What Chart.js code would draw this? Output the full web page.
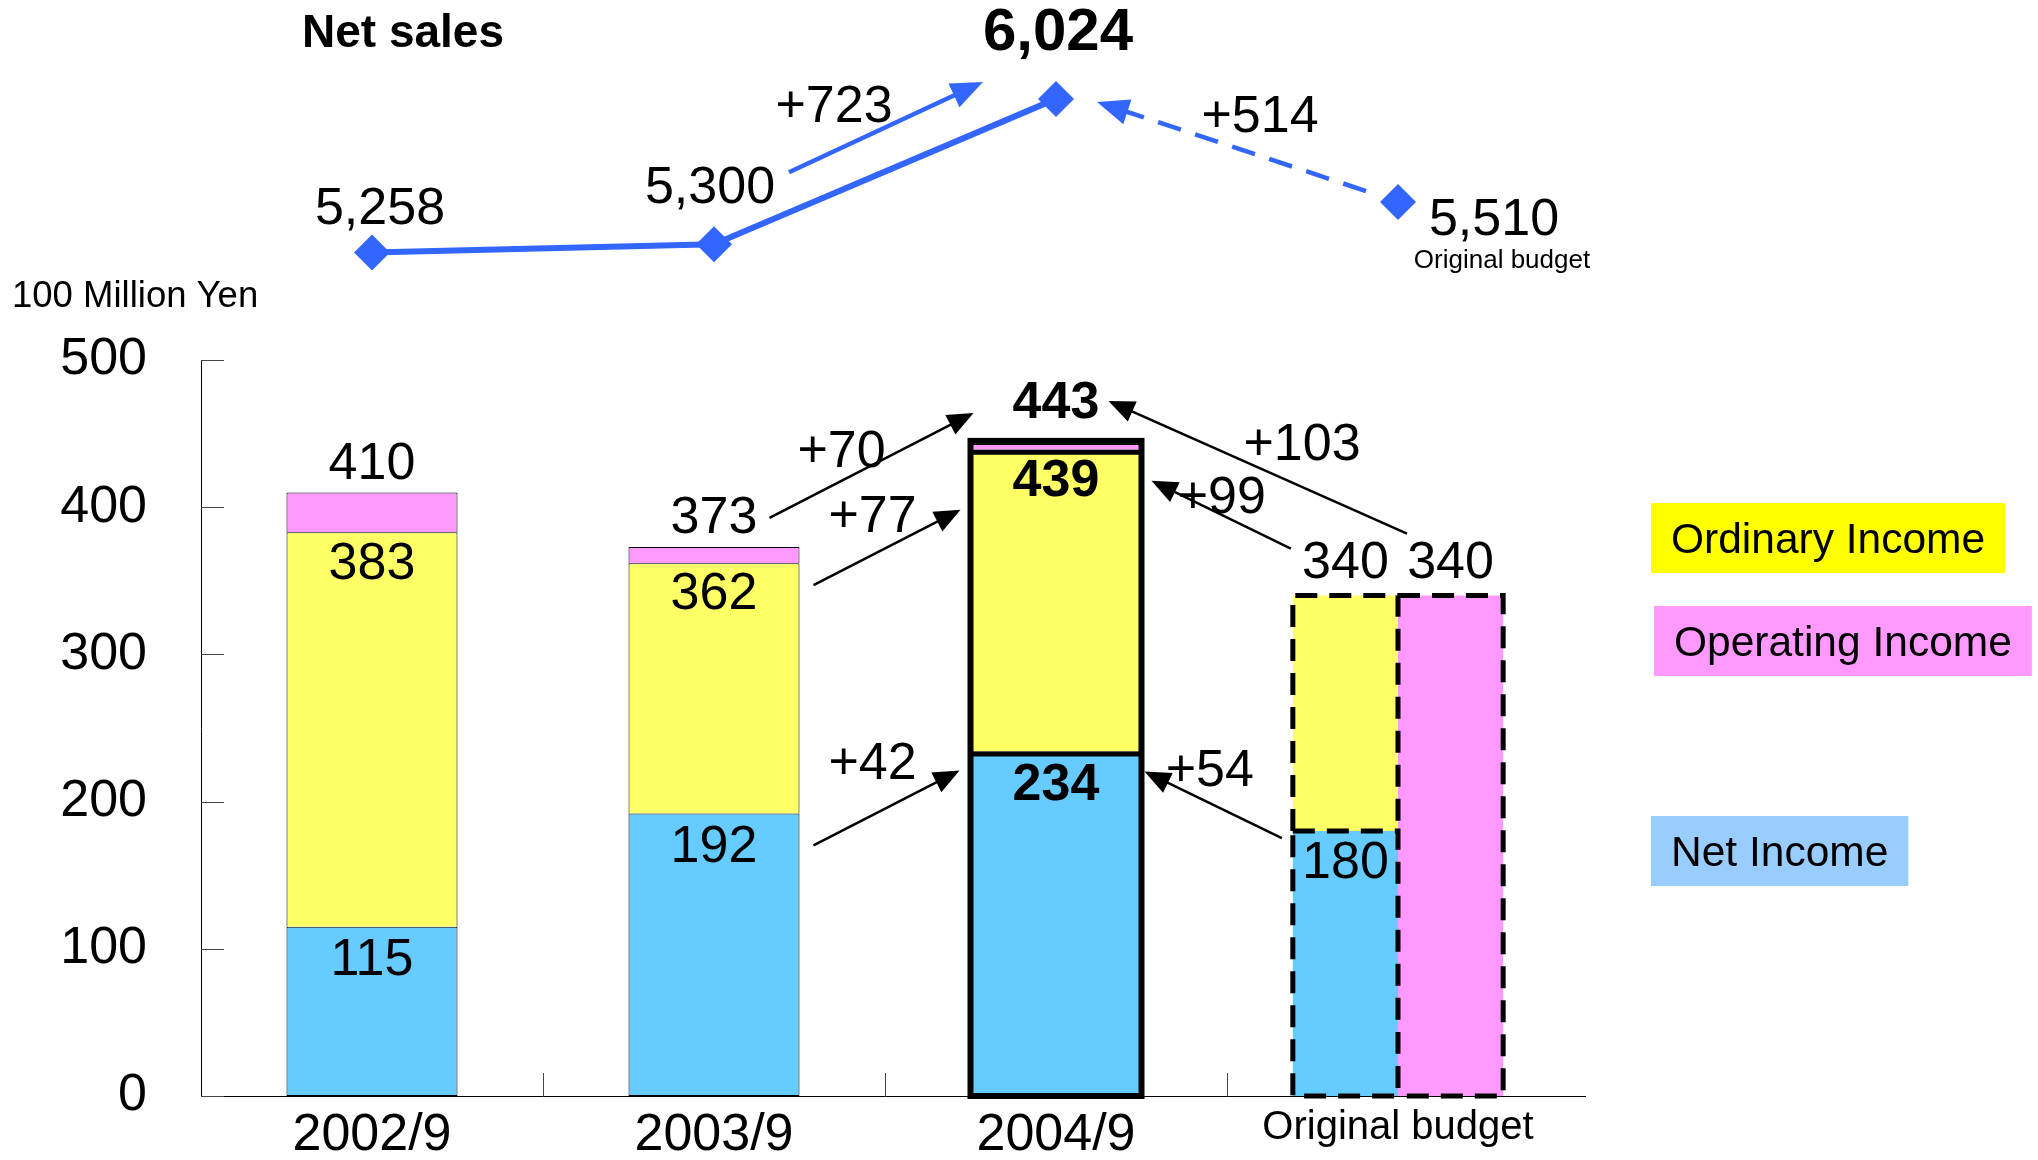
<!DOCTYPE html>
<html>
<head>
<meta charset="utf-8">
<title>Net sales and income</title>
<script src="https://cdn.jsdelivr.net/npm/chart.js@4.4.1/dist/chart.umd.min.js"></script>
<style>
  html, body { margin: 0; padding: 0; background: #fff; }
  canvas { display: block; }
</style>
</head>
<body>
<canvas id="chart" width="2038" height="1160"></canvas>
<script>
// ---- data (100 million yen) ----
const categories      = ['2002/9', '2003/9', '2004/9', 'Original budget'];
const netSales        = [5258, 5300, 6024, 5510];
const netIncome       = [115, 192, 234, 180];
const ordinaryIncome  = [383, 362, 439, 340];
const operatingIncome = [410, 373, 443, 340];
const yTicks          = [0, 100, 200, 300, 400, 500];

const BUDGET = 3;   // plan column
const CURRENT = 2;  // latest actual, drawn emphasised

const SERIES = { net: 'Net Income', ordinary: 'Ordinary Income', operating: 'Operating Income' };

// ---- style ----
const FONT = '"Liberation Sans", Arial, Helvetica, sans-serif';
const font = (size, bold) => (bold ? 'bold ' : '') + size + 'px ' + FONT;
const COLORS = {
  net: '#66CCFF', ordinary: '#FFFF66', operating: '#FF99FF',
  sales: '#3366FF', ink: '#000000'
};
const LEGEND = [
  { label: SERIES.ordinary,  fill: '#FFFF00', x: 1651, y: 503 },
  { label: SERIES.operating, fill: '#FF99FF', x: 1654, y: 606 },
  { label: SERIES.net,       fill: '#99CCFF', x: 1651, y: 816 }
];

const actual = fn => categories.map((_, i) => (i === BUDGET ? null : fn(i)));
const budget = fn => categories.map((_, i) => (i === BUDGET ? fn(i) : null));

const actualStyle = {
  stack: 'actual', categoryPercentage: 0.5, barPercentage: 1, skipNull: true,
  borderColor: COLORS.ink, borderWidth: 1
};
const budgetStyle = {
  categoryPercentage: 0.615, barPercentage: 1, skipNull: true, borderWidth: 0
};

const datasets = [
  { label: SERIES.net, data: actual(i => [0, netIncome[i]]),
    backgroundColor: COLORS.net, borderSkipped: false, ...actualStyle },
  { label: SERIES.ordinary, data: actual(i => [netIncome[i], ordinaryIncome[i]]),
    backgroundColor: COLORS.ordinary, borderSkipped: 'start', ...actualStyle },
  { label: SERIES.operating, data: actual(i => [ordinaryIncome[i], operatingIncome[i]]),
    backgroundColor: COLORS.operating, borderSkipped: 'start', ...actualStyle },
  { label: SERIES.net, data: budget(i => [0, netIncome[i]]),
    backgroundColor: COLORS.net, stack: 'budgetLeft', ...budgetStyle },
  { label: SERIES.ordinary, data: budget(i => [netIncome[i], ordinaryIncome[i]]),
    backgroundColor: COLORS.ordinary, stack: 'budgetLeft', ...budgetStyle },
  { label: SERIES.operating, data: budget(i => [0, operatingIncome[i]]),
    backgroundColor: COLORS.operating, stack: 'budgetRight', ...budgetStyle },
  { type: 'line', label: 'Net sales', data: netSales, yAxisID: 'y2',
    borderColor: COLORS.sales, borderWidth: 6, tension: 0, clip: false,
    pointStyle: 'rectRot', pointRadius: 18, pointHoverRadius: 18,
    pointBackgroundColor: COLORS.sales, pointBorderColor: COLORS.sales, pointBorderWidth: 0,
    segment: { borderColor: c => (c.p1DataIndex === BUDGET ? 'rgba(0,0,0,0)' : undefined) } }
];
const DS = { net: 0, ord: 1, op: 2, bNet: 3, bOrd: 4, bOp: 5, sales: 6 };

// change arrows between bars: anchors are bar edges (top of segment) plus an offset
const barArrows = [
  { text: '+70',  from: [DS.op, 1, 'right', -30, -29],   to: [DS.op, CURRENT, 'left', 3, -31],    label: [72, -68] },
  { text: '+77',  from: [DS.ord, 1, 'right', 14, 22],    to: [DS.ord, CURRENT, 'left', -10, 60],  label: [59, -70] },
  { text: '+42',  from: [DS.net, 1, 'right', 14, 32],    to: [DS.net, CURRENT, 'left', -11, 19],  label: [59, -84] },
  { text: '+99',  from: [DS.bOrd, BUDGET, 'left', -2, -47], to: [DS.ord, CURRENT, 'right', 10, 31], label: [-69, -53] },
  { text: '+103', from: [DS.bOp, BUDGET, 'left', 9, -62],   to: [DS.op, CURRENT, 'right', -33, -43], label: [-105, -91] },
  { text: '+54',  from: [DS.bNet, BUDGET, 'left', -11, 7],  to: [DS.net, CURRENT, 'right', 3, 20],  label: [-72, -69] }
];
// change arrows on the net sales line: anchors are line points plus an offset
const salesArrows = [
  { text: '+723', from: [1, 75, -72], to: [CURRENT, -73, -17], label: [45, -68], dash: [] },
  { text: '+514', from: [BUDGET, -32, -11], to: [CURRENT, 41, 3], label: [-106, -76], dash: [24, 15] }
];
// value labels on the net sales line, offset from each point
const salesLabels = [
  { dx: 8, dy: -46, size: 52, bold: false },
  { dx: -4, dy: -59, size: 52, bold: false },
  { dx: 2, dy: -68, size: 60, bold: true },
  { dx: 96, dy: 16, size: 52, bold: false, note: 'Original budget' }
];

function box(chart, ds, i) {
  const p = chart.getDatasetMeta(ds).data[i].getProps(['x', 'y', 'base', 'width'], true);
  return { x: p.x, left: p.x - p.width / 2, right: p.x + p.width / 2,
           top: Math.min(p.y, p.base), bottom: Math.max(p.y, p.base) };
}
function anchor(chart, spec) {
  const [ds, i, side, dx, dy] = spec;
  const b = box(chart, ds, i);
  const x = side === 'left' ? b.left : side === 'right' ? b.right : b.x;
  return { x: x + dx, y: b.top + dy };
}
function salesPoint(chart, i) {
  const el = chart.getDatasetMeta(DS.sales).data[i];
  return { x: el.x, y: el.y };
}
function arrow(ctx, x1, y1, x2, y2, o) {
  const a = Math.atan2(y2 - y1, x2 - x1);
  const c = Math.cos(a), s = Math.sin(a);
  const bx = x2 - o.head * c, by = y2 - o.head * s;
  ctx.save();
  ctx.strokeStyle = o.color; ctx.fillStyle = o.color; ctx.lineWidth = o.width;
  ctx.setLineDash(o.dash || []);
  ctx.beginPath(); ctx.moveTo(x1, y1); ctx.lineTo(bx + c, by + s); ctx.stroke();
  ctx.setLineDash([]);
  ctx.beginPath();
  ctx.moveTo(x2, y2);
  ctx.lineTo(bx - o.half * s, by + o.half * c);
  ctx.lineTo(bx + o.half * s, by - o.half * c);
  ctx.closePath(); ctx.fill();
  ctx.restore();
}
// y is the visual middle of the digits/capitals
function text(ctx, str, x, y, f, align) {
  ctx.font = f; ctx.fillStyle = COLORS.ink;
  ctx.textAlign = align || 'center'; ctx.textBaseline = 'middle';
  ctx.fillText(str, x, y + 3);
}

const overlay = {
  id: 'overlay',
  afterDraw(chart) {
    const ctx = chart.ctx, area = chart.chartArea;
    const xs = chart.scales.x, ys = chart.scales.y;
    ctx.save();

    // net sales markers sit above the plot area, so draw them against the whole canvas
    const whole = { left: 0, top: 0, right: chart.width, bottom: chart.height };
    chart.getDatasetMeta(DS.sales).data.forEach(el => el.draw(ctx, whole));

    // inward tick marks on both axes, and the axis line running past the last column
    ctx.strokeStyle = '#444'; ctx.lineWidth = 1;
    ys.ticks.forEach(t => {
      const py = Math.round(ys.getPixelForValue(t.value)) + 0.5;
      ctx.beginPath(); ctx.moveTo(area.left, py); ctx.lineTo(area.left + 23, py); ctx.stroke();
    });
    for (let i = 1; i < categories.length; i++) {
      const px = Math.round((xs.getPixelForValue(i - 1) + xs.getPixelForValue(i)) / 2) + 0.5;
      ctx.beginPath(); ctx.moveTo(px, area.bottom); ctx.lineTo(px, area.bottom - 23); ctx.stroke();
    }
    ctx.strokeStyle = COLORS.ink;
    const ay = Math.round(area.bottom) + 0.5;
    ctx.beginPath(); ctx.moveTo(area.right, ay); ctx.lineTo(area.right + 17, ay); ctx.stroke();

    // heavy outline around the latest actual column
    const n = box(chart, DS.net, CURRENT), o = box(chart, DS.ord, CURRENT), p = box(chart, DS.op, CURRENT);
    ctx.lineWidth = 6;
    ctx.strokeRect(n.left, p.top - 3, n.right - n.left, n.bottom - p.top + 3);
    ctx.lineWidth = 5;
    [o.top, n.top].forEach(yy => {
      ctx.beginPath(); ctx.moveTo(n.left, yy + 2.5); ctx.lineTo(n.right, yy + 2.5); ctx.stroke();
    });

    // dashed outlines for the budget column
    const bn = box(chart, DS.bNet, BUDGET), bo = box(chart, DS.bOrd, BUDGET), bp = box(chart, DS.bOp, BUDGET);
    ctx.lineWidth = 5; ctx.setLineDash([22, 12]);
    ctx.beginPath(); ctx.rect(bn.left, bn.top, bn.right - bn.left, bn.bottom - bn.top); ctx.stroke();
    ctx.beginPath(); ctx.moveTo(bo.left, bo.bottom); ctx.lineTo(bo.left, bo.top);
    ctx.lineTo(bo.right, bo.top); ctx.lineTo(bo.right, bo.bottom); ctx.stroke();
    ctx.beginPath(); ctx.moveTo(bp.left, bp.top); ctx.lineTo(bp.right, bp.top);
    ctx.lineTo(bp.right, bp.bottom); ctx.lineTo(bp.left, bp.bottom); ctx.stroke();
    ctx.setLineDash([]);

    // bar value labels
    for (let i = 0; i < categories.length; i++) {
      if (i === BUDGET) {
        const a = box(chart, DS.bOrd, i), b = box(chart, DS.bOp, i), c = box(chart, DS.bNet, i);
        text(ctx, String(ordinaryIncome[i]), a.x, a.top - 35, font(52));
        text(ctx, String(operatingIncome[i]), b.x, b.top - 35, font(52));
        text(ctx, String(netIncome[i]), c.x, c.top + 30, font(52));
      } else {
        const bold = i === CURRENT;
        const a = box(chart, DS.op, i), b = box(chart, DS.ord, i), c = box(chart, DS.net, i);
        text(ctx, String(operatingIncome[i]), a.x, a.top - (bold ? 43 : 31), font(52, bold));
        text(ctx, String(ordinaryIncome[i]), b.x, b.top + 29, font(52, bold));
        text(ctx, String(netIncome[i]), c.x, c.top + 31, font(52, bold));
      }
    }

    // change arrows between columns
    barArrows.forEach(a => {
      const s = anchor(chart, a.from), e = anchor(chart, a.to);
      arrow(ctx, s.x, s.y, e.x, e.y, { color: COLORS.ink, width: 2.5, head: 26, half: 11 });
      text(ctx, a.text, s.x + a.label[0], s.y + a.label[1], font(52));
    });

    // net sales labels and arrows
    netSales.forEach((v, i) => {
      const pt = salesPoint(chart, i), l = salesLabels[i];
      text(ctx, v.toLocaleString('en-US'), pt.x + l.dx, pt.y + l.dy, font(l.size, l.bold));
      if (l.note) text(ctx, l.note, pt.x + l.dx + 8, pt.y + l.dy + 40, font(26));
    });
    salesArrows.forEach(a => {
      const s0 = salesPoint(chart, a.from[0]), e0 = salesPoint(chart, a.to[0]);
      const s = { x: s0.x + a.from[1], y: s0.y + a.from[2] };
      const e = { x: e0.x + a.to[1], y: e0.y + a.to[2] };
      arrow(ctx, s.x, s.y, e.x, e.y, { color: COLORS.sales, width: 4.5, head: 32, half: 13, dash: a.dash });
      text(ctx, a.text, s.x + a.label[0], s.y + a.label[1], font(52));
    });

    // headings
    text(ctx, 'Net sales', 403, 31, font(46, true));
    text(ctx, '100 Million Yen', 12, 294, font(36.5), 'left');

    // legend boxes
    LEGEND.forEach(item => {
      ctx.font = font(42.5);
      const w = ctx.measureText(item.label).width + 40;
      ctx.fillStyle = item.fill;
      ctx.fillRect(item.x, item.y, w, 70);
      text(ctx, item.label, item.x + 20, item.y + 35, font(42.5), 'left');
    });

    ctx.restore();
  }
};

new Chart(document.getElementById('chart'), {
  type: 'bar',
  data: { labels: categories, datasets },
  options: {
    responsive: false,
    animation: false,
    devicePixelRatio: 1,
    layout: { padding: { top: 360, right: 469, bottom: 0, left: 0 } },
    plugins: { legend: { display: false }, tooltip: { enabled: false } },
    scales: {
      x: {
        grid: { display: false, drawTicks: false },
        border: { display: true, color: COLORS.ink, width: 1 },
        ticks: {
          color: COLORS.ink, padding: 8, autoSkip: false, maxRotation: 0,
          font: c => ({ family: FONT, size: c.index === BUDGET ? 40 : 52 })
        },
        afterFit: s => { s.height = 64; }
      },
      y: {
        min: 0, max: 500, stacked: false,
        grid: { display: false, drawTicks: false },
        border: { display: true, color: COLORS.ink, width: 1 },
        ticks: { color: COLORS.ink, padding: 54, font: { family: FONT, size: 52 } },
        afterBuildTicks: s => { s.ticks = yTicks.map(v => ({ value: v })); },
        afterFit: s => { s.width = 201; s.paddingTop = 0; s.paddingBottom = 0; }
      },
      y2: { display: false, min: 1056, max: 4723 }
    }
  },
  plugins: [overlay]
});
</script>
</body>
</html>
